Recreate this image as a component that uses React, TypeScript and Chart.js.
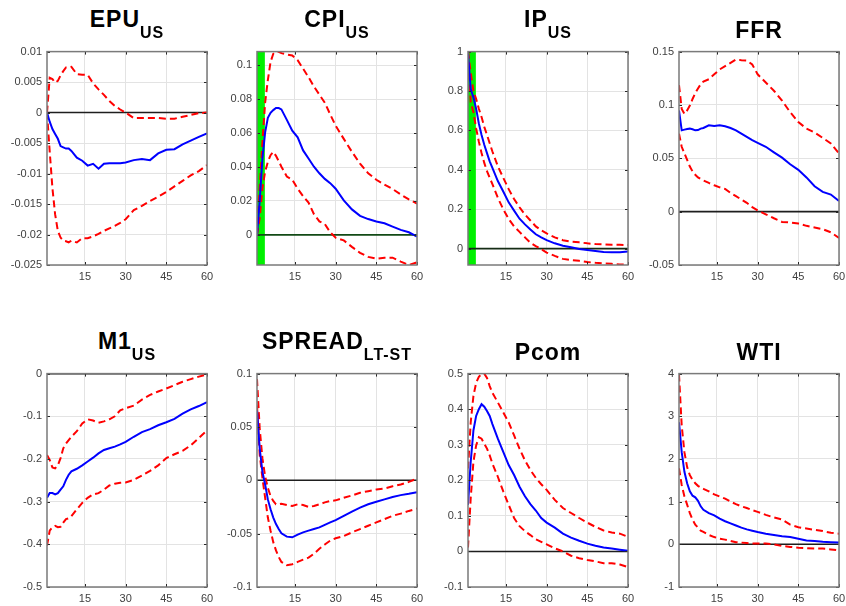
import React, { useEffect, useRef } from "react";
import { Chart, registerables } from "chart.js";

Chart.register(...registerables);
Chart.defaults.font.family = '"Liberation Sans", Arial, Helvetica, sans-serif';

// ---------- data ----------
const HORIZON = [1, 2, 3, 4, 5, 6, 7, 8, 9, 10, 12, 14, 16, 18, 20, 22, 24, 26, 28, 30, 33, 36, 39, 42, 45, 48, 51, 54, 57, 60];
const X_TICKS = [15, 30, 45, 60];
const X_MIN = 1;
const X_MAX = 60;

const EPU_MEAN = [0, -0.0015, -0.0027, -0.0035, -0.0043, -0.0055, -0.0057, -0.0059, -0.0059, -0.0063, -0.0074, -0.0079, -0.0087, -0.0084, -0.0092, -0.0084, -0.0083, -0.0083, -0.0083, -0.0082, -0.0078, -0.0076, -0.0078, -0.0067, -0.0061, -0.006, -0.0052, -0.0046, -0.004, -0.0034];
const EPU_UPPER = [0, 0.0057, 0.0055, 0.0049, 0.0052, 0.0061, 0.0068, 0.0074, 0.0074, 0.0075, 0.0063, 0.0062, 0.0062, 0.0048, 0.0038, 0.0029, 0.0019, 0.0011, 0.0005, 0, -0.0009, -0.0009, -0.0009, -0.0009, -0.001, -0.001, -0.0007, -0.0004, -0.0001, 0];
const EPU_LOWER = [0, -0.0064, -0.0124, -0.0167, -0.0194, -0.0205, -0.021, -0.0211, -0.0213, -0.021, -0.0213, -0.0206, -0.0206, -0.0203, -0.0199, -0.0194, -0.019, -0.0186, -0.0181, -0.0175, -0.016, -0.0153, -0.0145, -0.0138, -0.013, -0.0121, -0.0112, -0.0103, -0.0096, -0.0086];
const EPU_TICKS = [-0.025, -0.02, -0.015, -0.01, -0.005, 0, 0.005, 0.01];
const EPU_LIMITS = [-0.025, 0.01];

const CPI_MEAN = [0, 0.02, 0.045, 0.0605, 0.069, 0.072, 0.0736, 0.0748, 0.0748, 0.074, 0.0678, 0.0614, 0.0575, 0.0498, 0.045, 0.0402, 0.0363, 0.033, 0.0305, 0.0272, 0.0203, 0.015, 0.0112, 0.0093, 0.0079, 0.0068, 0.0048, 0.0029, 0.0015, -0.001];
const CPI_UPPER = [0, 0.0276, 0.0547, 0.078, 0.0913, 0.102, 0.1068, 0.108, 0.108, 0.1072, 0.1064, 0.1058, 0.103, 0.098, 0.093, 0.0875, 0.0827, 0.078, 0.071, 0.0644, 0.0566, 0.049, 0.042, 0.0363, 0.0325, 0.0296, 0.027, 0.0238, 0.0209, 0.0184];
const CPI_LOWER = [0, 0.01, 0.0276, 0.0373, 0.043, 0.047, 0.0489, 0.0466, 0.0435, 0.0402, 0.0344, 0.0325, 0.0272, 0.0228, 0.019, 0.0122, 0.0079, 0.0064, 0.0015, -0.0017, -0.0033, -0.0071, -0.0106, -0.013, -0.0141, -0.0135, -0.0135, -0.0158, -0.0178, -0.0162];
const CPI_TICKS = [0, 0.02, 0.04, 0.06, 0.08, 0.1];
const CPI_LIMITS = [-0.0178, 0.1081];
const CPI_SHADE = [1, 3.9];

const IP_MEAN = [0.99, 0.81, 0.768, 0.71, 0.635, 0.577, 0.527, 0.485, 0.443, 0.41, 0.343, 0.29, 0.235, 0.193, 0.152, 0.123, 0.097, 0.073, 0.057, 0.043, 0.027, 0.015, 0.007, -0.002, -0.007, -0.012, -0.017, -0.018, -0.018, -0.015];
const IP_UPPER = [1.0, 0.893, 0.8, 0.76, 0.71, 0.668, 0.618, 0.577, 0.535, 0.493, 0.418, 0.36, 0.302, 0.252, 0.21, 0.173, 0.143, 0.113, 0.093, 0.077, 0.057, 0.043, 0.035, 0.032, 0.027, 0.023, 0.022, 0.02, 0.02, 0.018];
const IP_LOWER = [1.0, 0.743, 0.693, 0.61, 0.543, 0.485, 0.435, 0.393, 0.36, 0.327, 0.258, 0.2, 0.15, 0.113, 0.085, 0.057, 0.03, 0.013, -0.003, -0.02, -0.037, -0.052, -0.058, -0.062, -0.068, -0.072, -0.075, -0.077, -0.08, -0.082];
const IP_TICKS = [0, 0.2, 0.4, 0.6, 0.8, 1];
const IP_LIMITS = [-0.083, 1.0];
const IP_SHADE = [1, 3.9];

const FFR_MEAN = [0.0948, 0.0762, 0.0769, 0.0775, 0.0778, 0.0772, 0.0762, 0.0765, 0.0778, 0.0784, 0.0809, 0.0802, 0.0809, 0.08, 0.0784, 0.0762, 0.0731, 0.07, 0.067, 0.0645, 0.0608, 0.0556, 0.0506, 0.0444, 0.0392, 0.0321, 0.0238, 0.0185, 0.016, 0.0099];
const FFR_UPPER = [0.1185, 0.0963, 0.0917, 0.0948, 0.0994, 0.1056, 0.1111, 0.1154, 0.1194, 0.1219, 0.1241, 0.1287, 0.1333, 0.1364, 0.1395, 0.1426, 0.142, 0.1417, 0.138, 0.1287, 0.121, 0.1133, 0.104, 0.0932, 0.084, 0.0778, 0.0741, 0.0691, 0.0639, 0.0546];
const FFR_LOWER = [0.0731, 0.0608, 0.0546, 0.0485, 0.0423, 0.0377, 0.0346, 0.0321, 0.0306, 0.0293, 0.0269, 0.0247, 0.0228, 0.0213, 0.0176, 0.0145, 0.0114, 0.0083, 0.0043, 0.0012, -0.0025, -0.0062, -0.0096, -0.0102, -0.0111, -0.0133, -0.0148, -0.0164, -0.0194, -0.0247];
const FFR_TICKS = [-0.05, 0, 0.05, 0.1, 0.15];
const FFR_LIMITS = [-0.05, 0.15];

const M1_MEAN = [-0.291, -0.28, -0.28, -0.283, -0.28, -0.272, -0.264, -0.249, -0.237, -0.229, -0.223, -0.215, -0.206, -0.197, -0.187, -0.179, -0.175, -0.171, -0.166, -0.16, -0.148, -0.137, -0.13, -0.121, -0.114, -0.106, -0.094, -0.084, -0.076, -0.067];
const M1_UPPER = [-0.191, -0.202, -0.22, -0.222, -0.215, -0.198, -0.175, -0.164, -0.156, -0.148, -0.135, -0.117, -0.107, -0.11, -0.115, -0.112, -0.107, -0.1, -0.086, -0.081, -0.075, -0.061, -0.05, -0.042, -0.035, -0.027, -0.019, -0.013, -0.007, -0.002];
const M1_LOWER = [-0.403, -0.368, -0.36, -0.357, -0.36, -0.359, -0.349, -0.341, -0.339, -0.334, -0.318, -0.303, -0.291, -0.283, -0.28, -0.272, -0.262, -0.258, -0.256, -0.255, -0.249, -0.239, -0.228, -0.215, -0.198, -0.189, -0.181, -0.168, -0.151, -0.133];
const M1_TICKS = [-0.5, -0.4, -0.3, -0.2, -0.1, 0];
const M1_LIMITS = [-0.5, 0];

const SPREAD_MEAN = [0.0654, 0.03, 0.008, -0.004, -0.0179, -0.0272, -0.0349, -0.041, -0.0457, -0.0497, -0.0528, -0.0534, -0.0509, -0.0488, -0.0472, -0.0457, -0.0441, -0.0417, -0.0395, -0.0373, -0.0333, -0.0293, -0.0256, -0.0225, -0.0201, -0.0179, -0.0157, -0.0139, -0.0127, -0.0111];
const SPREAD_UPPER = [0.0948, 0.0485, 0.0207, 0.0037, -0.0071, -0.0148, -0.0194, -0.0225, -0.0225, -0.0219, -0.0231, -0.0241, -0.0225, -0.0231, -0.025, -0.0241, -0.0225, -0.0207, -0.0194, -0.0188, -0.0164, -0.0142, -0.0117, -0.0102, -0.0086, -0.0077, -0.0056, -0.004, -0.0015, 0.0015];
const SPREAD_LOWER = [0.07, 0.0238, 0.0022, -0.0164, -0.0349, -0.0472, -0.058, -0.0657, -0.0719, -0.0765, -0.0796, -0.0787, -0.0765, -0.0744, -0.0725, -0.0688, -0.0642, -0.0602, -0.0565, -0.0543, -0.0522, -0.0488, -0.0457, -0.0426, -0.0395, -0.0364, -0.0333, -0.0312, -0.0287, -0.0265];
const SPREAD_TICKS = [-0.1, -0.05, 0, 0.05, 0.1];
const SPREAD_LIMITS = [-0.1, 0.1];

const PCOM_MEAN = [0.131, 0.252, 0.34, 0.381, 0.4, 0.414, 0.407, 0.395, 0.381, 0.358, 0.317, 0.28, 0.243, 0.215, 0.182, 0.155, 0.133, 0.115, 0.094, 0.081, 0.067, 0.05, 0.039, 0.03, 0.022, 0.016, 0.011, 0.008, 0.005, 0.002];
const PCOM_UPPER = [0.233, 0.363, 0.437, 0.474, 0.491, 0.499, 0.5, 0.488, 0.465, 0.446, 0.419, 0.391, 0.363, 0.326, 0.289, 0.256, 0.229, 0.207, 0.189, 0.173, 0.145, 0.122, 0.108, 0.094, 0.081, 0.069, 0.059, 0.053, 0.05, 0.041];
const PCOM_LOWER = [0.011, 0.15, 0.252, 0.298, 0.321, 0.317, 0.303, 0.289, 0.27, 0.247, 0.21, 0.169, 0.131, 0.094, 0.071, 0.057, 0.046, 0.034, 0.027, 0.02, 0.009, 0, -0.012, -0.019, -0.024, -0.028, -0.033, -0.033, -0.037, -0.044];
const PCOM_TICKS = [-0.1, 0, 0.1, 0.2, 0.3, 0.4, 0.5];
const PCOM_LIMITS = [-0.1, 0.5];

const WTI_MEAN = [2.86, 2.16, 1.7, 1.43, 1.24, 1.14, 1.1, 1.02, 0.89, 0.81, 0.73, 0.68, 0.6, 0.54, 0.49, 0.44, 0.39, 0.35, 0.32, 0.29, 0.25, 0.22, 0.19, 0.17, 0.13, 0.09, 0.08, 0.06, 0.05, 0.04];
const WTI_UPPER = [3.98, 2.78, 2.16, 1.81, 1.62, 1.51, 1.43, 1.37, 1.33, 1.3, 1.24, 1.17, 1.12, 1.07, 1.0, 0.94, 0.89, 0.85, 0.8, 0.76, 0.69, 0.63, 0.58, 0.46, 0.4, 0.37, 0.34, 0.31, 0.27, 0.25];
const WTI_LOWER = [1.78, 1.39, 1.12, 0.93, 0.73, 0.58, 0.46, 0.39, 0.32, 0.29, 0.22, 0.17, 0.13, 0.11, 0.08, 0.05, 0.04, 0.03, 0.02, 0.02, 0.02, 0, -0.04, -0.06, -0.08, -0.09, -0.1, -0.1, -0.12, -0.14];
const WTI_TICKS = [-1, 0, 1, 2, 3, 4];
const WTI_LIMITS = [-1, 4];

// ---------- panel specs ----------
type PanelSpec = {
  title: string;
  sub?: string;
  mean: number[];
  upper: number[];
  lower: number[];
  ticks: number[];
  limits: number[];
  shade?: number[];
  zeroColor: string;
};

const PANELS: PanelSpec[] = [
  { title: "EPU", sub: "US", mean: EPU_MEAN, upper: EPU_UPPER, lower: EPU_LOWER, ticks: EPU_TICKS, limits: EPU_LIMITS, zeroColor: "#1e1e1e" },
  { title: "CPI", sub: "US", mean: CPI_MEAN, upper: CPI_UPPER, lower: CPI_LOWER, ticks: CPI_TICKS, limits: CPI_LIMITS, shade: CPI_SHADE, zeroColor: "#124a16" },
  { title: "IP", sub: "US", mean: IP_MEAN, upper: IP_UPPER, lower: IP_LOWER, ticks: IP_TICKS, limits: IP_LIMITS, shade: IP_SHADE, zeroColor: "#152c15" },
  { title: "FFR", mean: FFR_MEAN, upper: FFR_UPPER, lower: FFR_LOWER, ticks: FFR_TICKS, limits: FFR_LIMITS, zeroColor: "#1e1e1e" },
  { title: "M1", sub: "US", mean: M1_MEAN, upper: M1_UPPER, lower: M1_LOWER, ticks: M1_TICKS, limits: M1_LIMITS, zeroColor: "#1e1e1e" },
  { title: "SPREAD", sub: "LT-ST", mean: SPREAD_MEAN, upper: SPREAD_UPPER, lower: SPREAD_LOWER, ticks: SPREAD_TICKS, limits: SPREAD_LIMITS, zeroColor: "#1e1e1e" },
  { title: "Pcom", mean: PCOM_MEAN, upper: PCOM_UPPER, lower: PCOM_LOWER, ticks: PCOM_TICKS, limits: PCOM_LIMITS, zeroColor: "#1e1e1e" },
  { title: "WTI", mean: WTI_MEAN, upper: WTI_UPPER, lower: WTI_LOWER, ticks: WTI_TICKS, limits: WTI_LIMITS, zeroColor: "#1e1e1e" },
];

// ---------- layout ----------
const PLOT_LEFTS = [47, 257, 468, 679];
const PLOT_TOPS = [48, 370];
const PLOT_W = 160;
const PLOT_H = 217;
const Y_AXIS_W = 46;
const X_AXIS_H = 22;
const PAD_TOP = 8;
const PAD_RIGHT = 12;
const FONT = '"Liberation Sans", Arial, Helvetica, sans-serif';

const fmt = (v: number) => String(Math.round(v * 1e6) / 1e6);

function Panel({ spec, left, top }: { spec: PanelSpec; left: number; top: number }) {
  const ref = useRef<HTMLCanvasElement>(null);

  useEffect(() => {
    if (!ref.current) return;
    const toXY = (ys: number[]) => HORIZON.map((x, i) => ({ x, y: ys[i] }));

    const matlabPlugin = {
      id: "matlabAxes",
      beforeDatasetsDraw(chart: any) {
        if (!spec.shade) return;
        const { ctx, chartArea: a, scales } = chart;
        const x0 = scales.x.getPixelForValue(spec.shade[0]);
        const x1 = scales.x.getPixelForValue(spec.shade[1]);
        ctx.save();
        ctx.fillStyle = "#00f000";
        ctx.fillRect(x0, a.top, x1 - x0, a.bottom - a.top);
        ctx.restore();
      },
      afterDraw(chart: any) {
        const { ctx, chartArea: a, scales } = chart;
        ctx.save();
        ctx.strokeStyle = "#262626";
        ctx.lineWidth = 1;
        ctx.beginPath();
        for (const v of X_TICKS) {
          const px = Math.round(scales.x.getPixelForValue(v)) + 0.5;
          ctx.moveTo(px, a.bottom);
          ctx.lineTo(px, a.bottom - 3);
          ctx.moveTo(px, a.top);
          ctx.lineTo(px, a.top + 3);
        }
        for (const v of spec.ticks) {
          const py = Math.round(scales.y.getPixelForValue(v)) + 0.5;
          ctx.moveTo(a.left, py);
          ctx.lineTo(a.left + 3, py);
          ctx.moveTo(a.right, py);
          ctx.lineTo(a.right - 3, py);
        }
        ctx.stroke();
        ctx.strokeStyle = "#7a7a7a";
        ctx.lineWidth = 1.5;
        ctx.strokeRect(a.left, a.top, a.right - a.left, a.bottom - a.top);
        ctx.restore();
      },
    };

    const tickFont = { size: 11, family: FONT };
    const gridOpts = { color: "#e3e3e3", lineWidth: 1, drawTicks: false };

    const chart = new Chart(ref.current, {
      type: "line",
      data: {
        datasets: [
          {
            data: toXY(spec.mean),
            borderColor: "#0000ff",
            borderWidth: 2,
            pointRadius: 0,
            tension: 0,
            fill: false,
          },
          {
            data: toXY(spec.upper),
            borderColor: "#ff0000",
            borderWidth: 2,
            borderDash: [7, 4],
            pointRadius: 0,
            tension: 0,
            fill: false,
          },
          {
            data: toXY(spec.lower),
            borderColor: "#ff0000",
            borderWidth: 2,
            borderDash: [7, 4],
            pointRadius: 0,
            tension: 0,
            fill: false,
          },
          {
            data: [
              { x: X_MIN, y: 0 },
              { x: X_MAX, y: 0 },
            ],
            borderColor: spec.zeroColor,
            borderWidth: 1.6,
            pointRadius: 0,
            fill: false,
          },
        ],
      },
      options: {
        responsive: false,
        maintainAspectRatio: false,
        animation: false,
        events: [],
        layout: { padding: { top: PAD_TOP, right: PAD_RIGHT, left: 0, bottom: 0 } },
        plugins: { legend: { display: false }, tooltip: { enabled: false }, title: { display: false } },
        scales: {
          x: {
            type: "linear",
            min: X_MIN,
            max: X_MAX,
            afterBuildTicks: (s: any) => {
              s.ticks = X_TICKS.map((v) => ({ value: v }));
            },
            afterFit: (s: any) => {
              s.height = X_AXIS_H;
            },
            grid: gridOpts,
            border: { display: false },
            ticks: {
              autoSkip: false,
              maxRotation: 0,
              padding: 5,
              color: "#404040",
              font: tickFont,
              callback: (v: any) => fmt(Number(v)),
            },
          },
          y: {
            type: "linear",
            min: spec.limits[0],
            max: spec.limits[1],
            afterBuildTicks: (s: any) => {
              s.ticks = spec.ticks.map((v) => ({ value: v }));
            },
            afterFit: (s: any) => {
              s.width = Y_AXIS_W;
            },
            grid: gridOpts,
            border: { display: false },
            ticks: {
              autoSkip: false,
              padding: 5,
              color: "#404040",
              font: tickFont,
              callback: (v: any) => fmt(Number(v)),
            },
          },
        },
      },
      plugins: [matlabPlugin],
    } as any);

    return () => chart.destroy();
  }, [spec]);

  const cw = Y_AXIS_W + PLOT_W + PAD_RIGHT;
  const ch = PAD_TOP + PLOT_H + X_AXIS_H;
  const titleTop = spec.sub ? top - 40 : top - 29;

  return (
    <>
      <canvas
        ref={ref}
        width={cw}
        height={ch}
        style={{ position: "absolute", left: left - Y_AXIS_W, top: top - PAD_TOP, width: cw, height: ch }}
      />
      <div
        style={{
          position: "absolute",
          left: left - 30,
          width: PLOT_W + 60,
          top: titleTop,
          textAlign: "center",
          fontFamily: FONT,
          fontWeight: "bold",
          fontSize: 23,
          lineHeight: "23px",
          letterSpacing: 1,
          color: "#000",
          whiteSpace: "nowrap",
        }}
      >
        <span>{spec.title}</span>
        {spec.sub ? (
          <span style={{ fontSize: 16, position: "relative", top: 11 }}>{spec.sub}</span>
        ) : null}
      </div>
    </>
  );
}

export default function App() {
  return (
    <div
      style={{
        position: "absolute",
        left: 0,
        top: 0,
        width: 846,
        height: 606,
        background: "#ffffff",
        overflow: "hidden",
      }}
    >
      {PANELS.map((spec, i) => (
        <Panel key={spec.title} spec={spec} left={PLOT_LEFTS[i % 4]} top={PLOT_TOPS[Math.floor(i / 4)]} />
      ))}
    </div>
  );
}
